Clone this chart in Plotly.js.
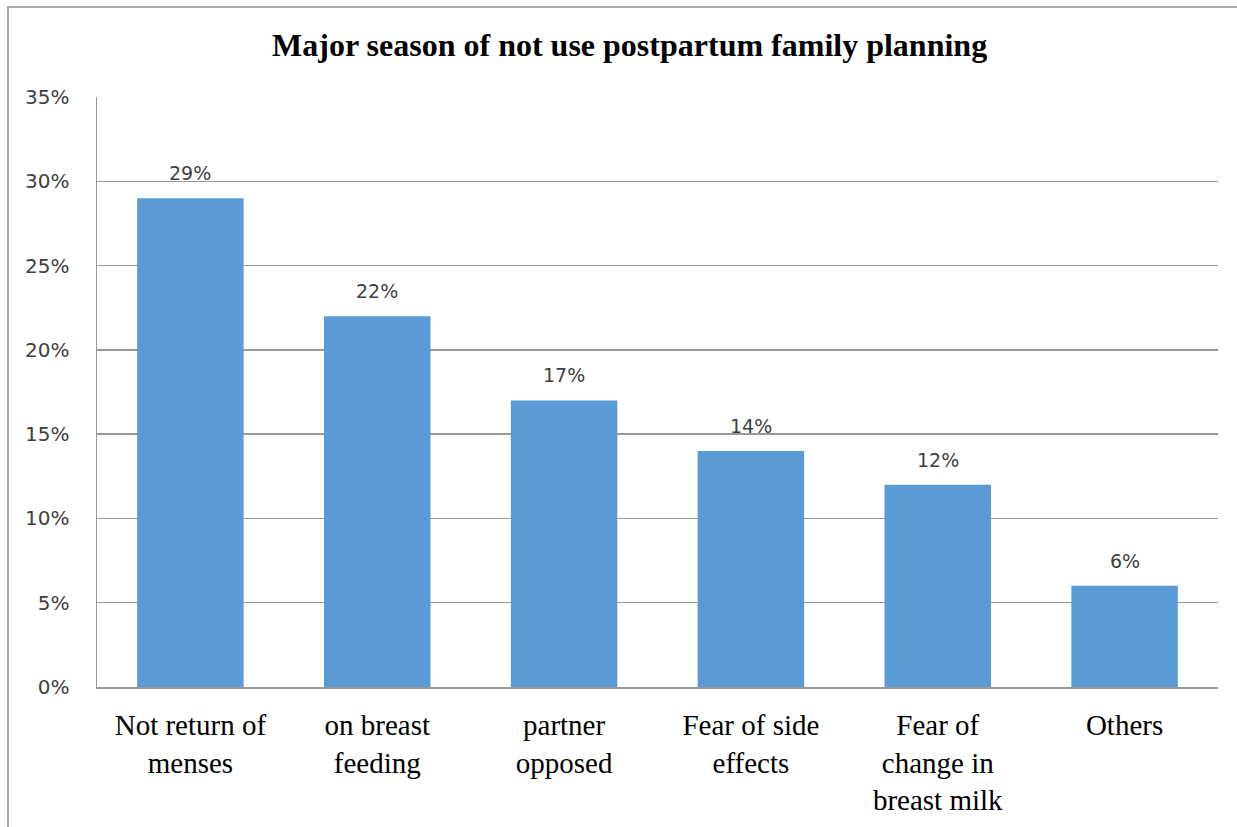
<!DOCTYPE html>
<html>
<head>
<meta charset="utf-8">
<script src="https://cdn.plot.ly/plotly-3.0.1.min.js"></script>
<style>
  html, body { margin: 0; padding: 0; background: #fff; }
  #chart { position: absolute; left: 0; top: 0; width: 1237px; height: 827px; }
  #frame { position: absolute; left: 7px; top: 6px; right: 0; bottom: 0;
           border-top: 2px solid #ababab; border-left: 2px solid #ababab; pointer-events: none; }
</style>
</head>
<body>
<div id="chart"></div>
<div id="frame"></div>
<script>
const categories = [
  "Not return of<br>menses",
  "on breast<br>feeding",
  "partner<br>opposed",
  "Fear of side<br>effects",
  "Fear of<br>change in<br>breast milk",
  "Others"
];
const values = [29, 22, 17, 14, 12, 6];
const labels = ["29%", "22%", "17%", "14%", "12%", "6%"];
const yTicks = [0, 5, 10, 15, 20, 25, 30, 35];
const yTickText = ["0%", "5%", "10%", "15%", "20%", "25%", "30%", "35%"];
const chartTitle = "Major season of not use postpartum family planning";

const trace = {
  type: "bar",
  x: categories,
  y: values,
  marker: { color: "#5b9bd5" },
  hoverinfo: "none"
};

const annotations = categories.map((c, i) => ({
  x: c, y: values[i], xref: "x", yref: "y",
  text: labels[i], showarrow: false,
  yanchor: "bottom", yshift: 12,
  font: { family: "DejaVu Sans", size: 19, color: "#404040" }
}));

const layout = {
  width: 1237, height: 827,
  margin: { l: 97, r: 19, t: 97, b: 140 },
  paper_bgcolor: "#ffffff",
  plot_bgcolor: "#ffffff",
  showlegend: false,
  bargap: 0.43,
  title: {
    text: "<b>" + chartTitle + "</b>",
    x: 0.509, xref: "container", xanchor: "center",
    y: 0.946, yref: "container", yanchor: "middle",
    font: { family: "Liberation Serif", size: 32, color: "#000000" }
  },
  xaxis: {
    type: "category",
    showgrid: false,
    showline: true, linecolor: "#999999", linewidth: 2,
    ticks: "", ticklabelstandoff: 11,
    tickfont: { family: "Liberation Serif", size: 29, color: "#000000" }
  },
  yaxis: {
    range: [0, 35],
    tickvals: yTicks, ticktext: yTickText,
    showgrid: true, gridcolor: "#999999", gridwidth: 1.5,
    showline: true, linecolor: "#999999", linewidth: 1.5,
    zeroline: false,
    ticks: "", ticklabelstandoff: 22,
    tickfont: { family: "DejaVu Sans", size: 20, color: "#404040" }
  },
  annotations: annotations
};

Plotly.newPlot("chart", [trace], layout, { displayModeBar: false, staticPlot: true });
</script>
</body>
</html>
